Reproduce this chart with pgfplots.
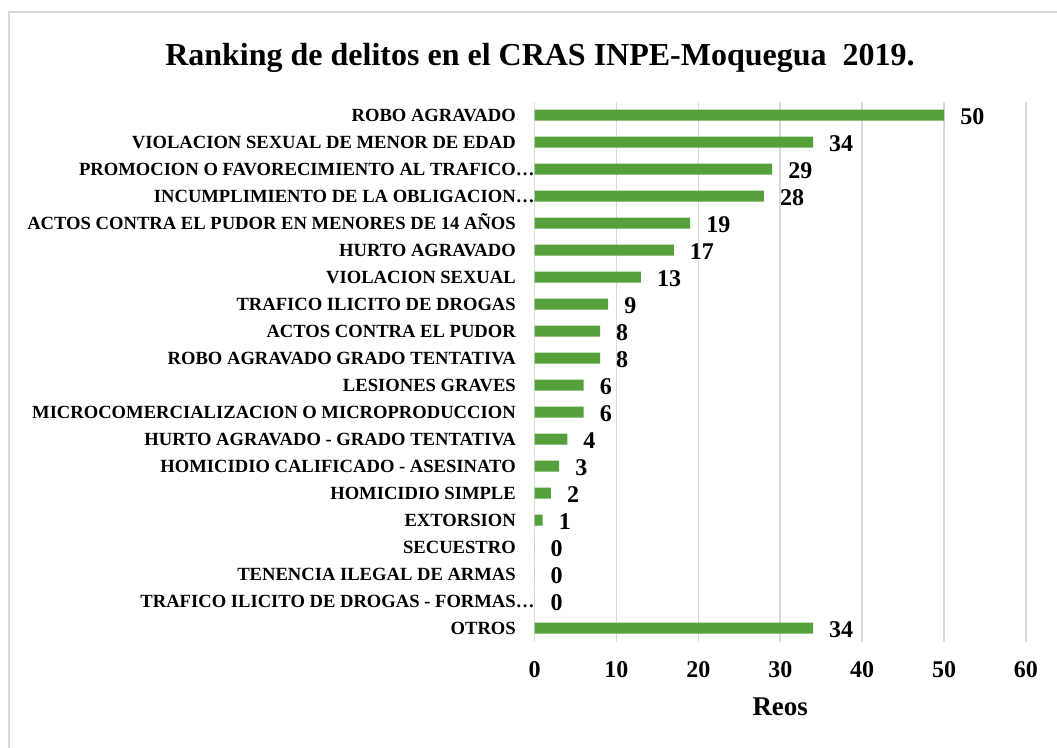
\documentclass[border=0pt]{standalone}
\usepackage{fontspec}
\setmainfont{Liberation Serif}
\usepackage{pgfplots}
\pgfplotsset{compat=1.18}
\definecolor{barg}{HTML}{55A03B}
\definecolor{gridc}{HTML}{D9D9D9}
\begin{document}
\begin{tikzpicture}[x=1pt,y=1pt]
\useasboundingbox (0,0) rectangle (1057,747);
\draw[gridc, line width=1.6pt] (9,-30) rectangle (1090,735);
\node[anchor=base, inner sep=0pt, font=\fontsize{32}{36}\selectfont\bfseries] at (540,681) {Ranking de delitos en el CRAS INPE-Moquegua\ \ 2019.};
\begin{axis}[
 at={(534.5pt,105.3pt)}, anchor=south west,
 scale only axis, width=491.5pt, height=540pt,
 xbar, bar width=11pt,
 xmin=0, xmax=60, ymin=-0.5, ymax=19.5, y dir=reverse,
 ytick={0,...,19},
 yticklabels={ROBO AGRAVADO, VIOLACION SEXUAL DE MENOR DE EDAD, PROMOCION O FAVORECIMIENTO AL TRAFICO\rlap{…}, INCUMPLIMIENTO DE LA OBLIGACION\rlap{…}, ACTOS CONTRA EL PUDOR EN MENORES DE 14 AÑOS, HURTO AGRAVADO, VIOLACION SEXUAL, TRAFICO ILICITO DE DROGAS, ACTOS CONTRA EL PUDOR, ROBO AGRAVADO GRADO TENTATIVA, LESIONES GRAVES, MICROCOMERCIALIZACION O MICROPRODUCCION, HURTO AGRAVADO - GRADO TENTATIVA, HOMICIDIO CALIFICADO - ASESINATO, HOMICIDIO SIMPLE, EXTORSION, SECUESTRO, TENENCIA ILEGAL DE ARMAS, TRAFICO ILICITO DE DROGAS - FORMAS\rlap{…}, OTROS},
 xtick={0,10,...,60},
 axis line style={draw=none},
 major tick length=0pt,
 xmajorgrids, major grid style={draw=gridc, line width=1.6pt},
 /pgf/number format/assume math mode=true,
 x tick label style={font=\fontsize{24}{26}\selectfont\bfseries, anchor=base, inner sep=0pt, yshift=-35.5pt},
 y tick label style={font=\fontsize{18.6}{20}\selectfont\bfseries, anchor=base east, inner sep=0pt, xshift=-18.5pt, yshift=-6.4pt},
 xlabel={Reos},
 xlabel style={font=\fontsize{27}{30}\selectfont\bfseries, at={(axis description cs:0.5,0)}, anchor=base, inner sep=0pt, yshift=-73.5pt},
 point meta=x,
 nodes near coords,
 every node near coord/.append style={font=\fontsize{24}{26}\selectfont\bfseries, anchor=base west, inner sep=0pt, xshift=16pt, yshift=-9.5pt, text=black},
 clip=false,
]
\addplot[fill=barg, draw=none] coordinates {
(50,0) (34,1) (29,2) (28,3) (19,4) (17,5) (13,6) (9,7) (8,8) (8,9)
(6,10) (6,11) (4,12) (3,13) (2,14) (1,15) (0,16) (0,17) (0,18) (34,19)
};
\end{axis}
\end{tikzpicture}
\end{document}
